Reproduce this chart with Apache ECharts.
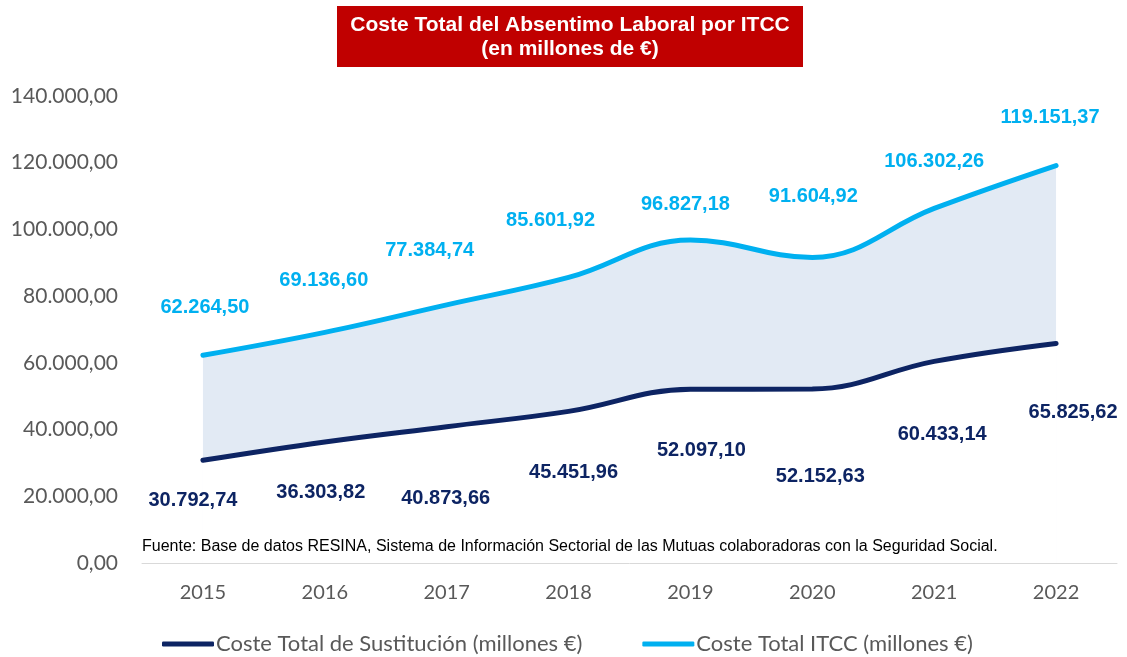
<!DOCTYPE html>
<html>
<head>
<meta charset="utf-8">
<script src="https://cdn.jsdelivr.net/npm/echarts@6/dist/echarts.min.js"></script>
<style>
  html, body { margin: 0; padding: 0; background: #fff; }
  #chart { width: 1127px; height: 657px; }
</style>
</head>
<body>
<div id="chart"></div>
<script>
// datos
var years = ['2015', '2016', '2017', '2018', '2019', '2020', '2021', '2022'];
var costeSustitucion = [30792.74, 36303.82, 40873.66, 45451.96, 52097.10, 52152.63, 60433.14, 65825.62];
var costeITCC = [62264.50, 69136.60, 77384.74, 85601.92, 96827.18, 91604.92, 106302.26, 119151.37];
var yTicks = { min: 0, max: 140000, interval: 20000 };

// desplazamiento de las etiquetas respecto al punto (px)
var itccLabelOffsets = [[2, -48], [-1, -52], [-17, -54], [-18, -57], [-5, -36], [1, -61], [0, -47], [-6, -48]];
var sustLabelOffsets = [[-10, 40], [-4, 51], [-1, 72], [5, 61], [11, 61], [8, 87], [8, 73], [17, 69]];

var NAVY = '#0d2463';
var CYAN = '#00b0f0';

function fmtEs(v, dec) {
    var parts = v.toFixed(dec).split('.');
    var ent = parts[0].replace(/\B(?=(\d{3})+(?!\d))/g, '.');
    return ent + ',' + parts[1];
}

function withLabels(values, offsets) {
    return values.map(function (v, i) {
        return { value: v, label: { offset: offsets[i] } };
    });
}

var chart = echarts.init(document.getElementById('chart'));
chart.setOption({
    animation: false,
    grid: { left: 142, right: 10, top: 96, bottom: 94 },
    legend: {
        bottom: -3,
        left: 157,
        itemWidth: 52,
        itemHeight: 5,
        itemGap: 60,
        icon: 'roundRect',
        data: ['Coste Total de Sustitución (millones €)', 'Coste Total ITCC (millones €)'],
        textStyle: { fontFamily: 'Lato', fontSize: 22, color: '#595959', padding: [0, 0, 0, -3] }
    },
    xAxis: {
        type: 'category',
        data: years,
        z: 5,
        axisLine: { lineStyle: { color: '#d9d9d9', width: 1 } },
        axisTick: { show: false },
        axisLabel: { fontFamily: 'Lato', fontSize: 20, color: '#595959', margin: 20 }
    },
    yAxis: {
        type: 'value',
        min: yTicks.min,
        max: yTicks.max,
        interval: yTicks.interval,
        splitLine: { show: false },
        axisLine: { show: false },
        axisTick: { show: false },
        axisLabel: {
            fontFamily: 'Lato', fontSize: 21, color: '#595959', margin: 24,
            formatter: function (v) { return fmtEs(v, 2); }
        }
    },
    graphic: [{
        type: 'rect',
        left: 337,
        top: 6,
        z: 10,
        shape: { width: 466, height: 61 },
        style: { fill: '#c00000' }
    }, {
        type: 'text',
        x: 570,
        y: 37,
        z: 11,
        style: {
            text: 'Coste Total del Absentimo Laboral por ITCC\n(en millones de €)',
            font: 'bold 21px "Liberation Sans"',
            lineHeight: 24,
            fill: '#fff',
            align: 'center',
            verticalAlign: 'middle'
        }
    }, {
        type: 'text',
        left: 142,
        top: 539,
        z: 10,
        style: {
            text: 'Fuente: Base de datos RESINA, Sistema de Información Sectorial de las Mutuas colaboradoras con la Seguridad Social.',
            font: '16px "Liberation Sans"',
            fill: '#000'
        }
    }],
    series: [{
        name: 'Coste Total ITCC (millones €)',
        type: 'line',
        smooth: 0.4,
        data: withLabels(costeITCC, itccLabelOffsets),
        symbol: 'circle',
        symbolSize: 1,
        color: CYAN,
        lineStyle: { width: 5, color: CYAN, cap: 'round' },
        areaStyle: { color: '#e2eaf4', opacity: 1 },
        label: {
            show: true,
            position: 'inside',
            color: CYAN,
            fontFamily: 'Liberation Sans',
            fontWeight: 'bold',
            fontSize: 20,
            formatter: function (p) { return fmtEs(p.value, 2); }
        }
    }, {
        name: 'Coste Total de Sustitución (millones €)',
        type: 'line',
        smooth: 0.4,
        data: withLabels(costeSustitucion, sustLabelOffsets),
        symbol: 'circle',
        symbolSize: 1,
        color: NAVY,
        lineStyle: { width: 5, color: NAVY, cap: 'round' },
        areaStyle: { color: '#ffffff', opacity: 1 },
        label: {
            show: true,
            position: 'inside',
            color: NAVY,
            fontFamily: 'Liberation Sans',
            fontWeight: 'bold',
            fontSize: 20,
            formatter: function (p) { return fmtEs(p.value, 2); }
        }
    }]
});
</script>
</body>
</html>
